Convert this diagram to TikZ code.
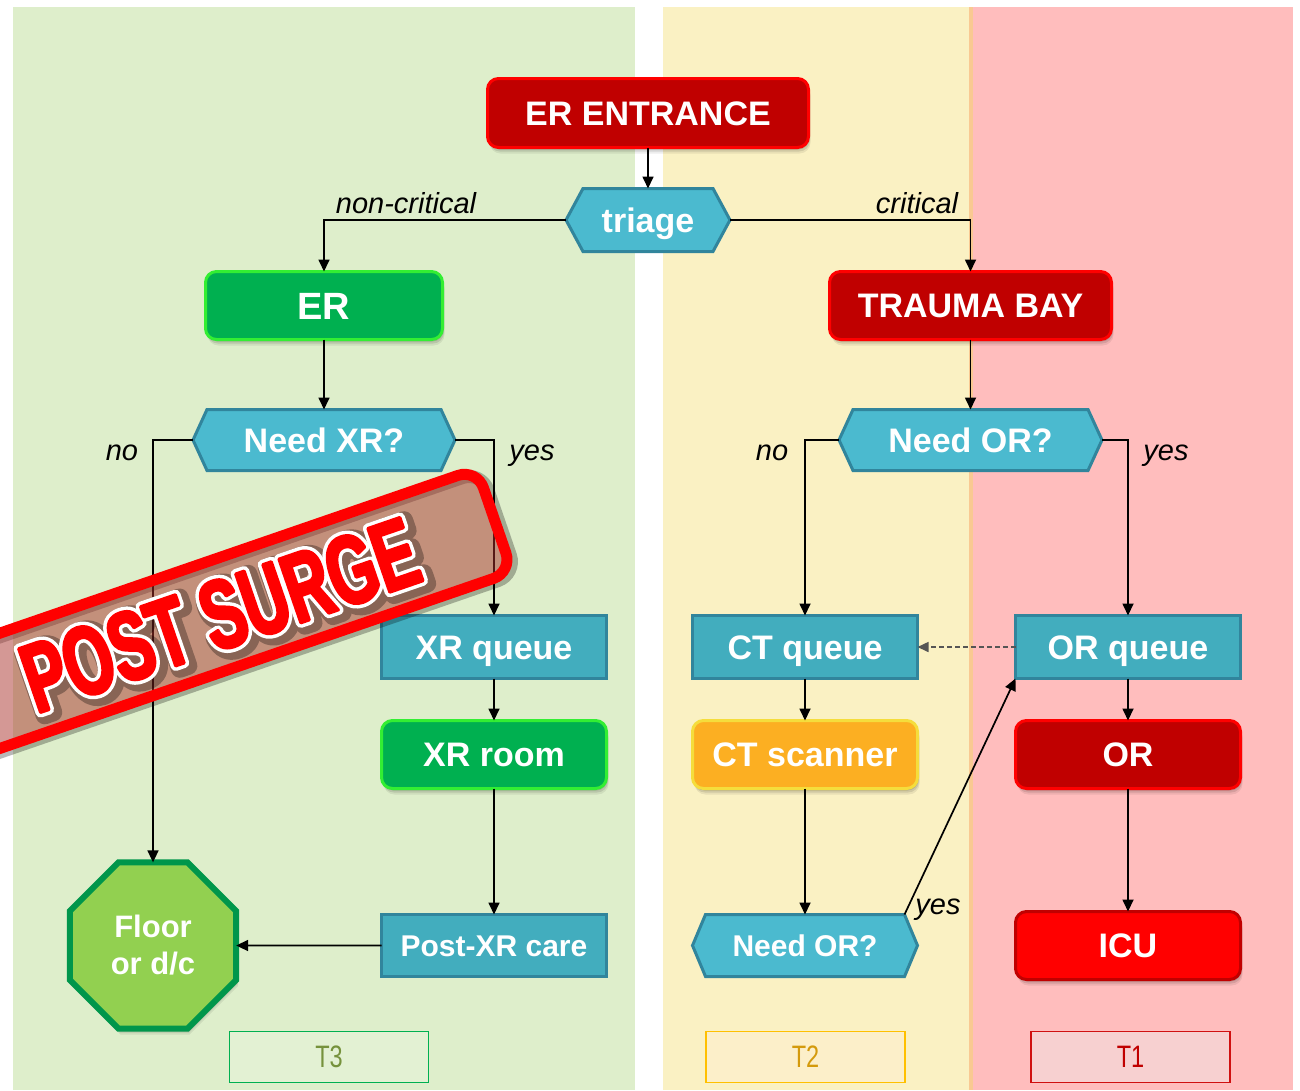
\documentclass[tikz,border=0pt]{standalone}
\usepackage{fontspec}
\setmainfont{Liberation Sans}
% condensed heavy face for the stamp lettering
\newfontfamily\stampplain{Liberation Sans}[UprightFont={* Bold}, UprightFeatures={FakeStretch=0.64}]
% glyphs filled and stroked with a given pen width and colour
\newcommand\strokedtext[3]{\special{pdf:literal direct #1 w 1 j #2 RG #2 rg 2 Tr}#3\special{pdf:literal direct 0 Tr}}
\usetikzlibrary{arrows.meta,shapes.geometric,shadows}

% panel and shape colours
\definecolor{pgreen}{HTML}{DEEECB}
\definecolor{pyellow}{HTML}{FAF1C3}
\definecolor{pred}{HTML}{FFBDBD}
\definecolor{pseam}{HTML}{F9C992}
\definecolor{dred}{HTML}{C00000}
\definecolor{bred}{HTML}{FF0000}
\definecolor{bgreen}{HTML}{00B050}
\definecolor{lgreen}{HTML}{33EE33}
\definecolor{hexfill}{HTML}{4BBACF}
\definecolor{hexline}{HTML}{31859C}
\definecolor{qfill}{HTML}{42ADBE}
\definecolor{ctfill}{HTML}{FCAF22}
\definecolor{ctline}{HTML}{F5DD3C}
\definecolor{octfill}{HTML}{92D050}
\definecolor{octline}{HTML}{00964B}
\definecolor{tthreetext}{HTML}{76923C}
\definecolor{tthreefill}{HTML}{E3F1D3}
\definecolor{ttwotext}{HTML}{D49A0C}
\definecolor{ttwofill}{HTML}{FCEFC9}
\definecolor{ttwoline}{HTML}{FFC000}
\definecolor{tonefill}{HTML}{F7D0D0}
\definecolor{toneline}{HTML}{D01010}
\definecolor{stampfill}{RGB}{170,51,45}
\definecolor{dashgray}{HTML}{555555}

\pgfdeclarelayer{panels}
\pgfdeclarelayer{hexes}
\pgfsetlayers{panels,hexes,main}

% hexagon decision shape drawn behind a named text node
\newcommand\hexback[2]{%
  \begin{pgfonlayer}{hexes}
    \filldraw[draw=hexline, fill=hexfill, line width=3pt, line join=miter]
      (#1.west) -- ([xshift=#2]#1.north west) -- ([xshift=-#2]#1.north east)
      -- (#1.east) -- ([xshift=-#2]#1.south east) -- ([xshift=#2]#1.south west) -- cycle;
  \end{pgfonlayer}}

\tikzset{
  softshadow/.style={
    drop shadow={shadow xshift=1pt, shadow yshift=-2pt, opacity=.12, fill=black},
    drop shadow={shadow xshift=1.5pt, shadow yshift=-4pt, opacity=.10, fill=black},
    drop shadow={shadow xshift=2pt, shadow yshift=-6pt, opacity=.07, fill=black}},
  box/.style={inner sep=0pt, outer sep=0pt, text=white, align=center,
    font=\bfseries\fontsize{34}{40}\selectfont, line width=3pt,
    text height=24.5pt, text depth=0pt},
  rbox/.style={box, rounded corners=11pt, softshadow},
  redbox/.style={rbox, fill=dred, draw=bred},
  greenbox/.style={rbox, fill=bgreen, draw=lgreen},
  ctbox/.style={rbox, fill=ctfill, draw=ctline},
  icubox/.style={rbox, fill=bred, draw=dred},
  qbox/.style={box, fill=qfill, draw=hexline},
  hexnode/.style={box},
  octo/.style={regular polygon, regular polygon sides=8, minimum size=180,
    inner sep=0pt, outer sep=0pt, fill=octfill, draw=octline, line width=6pt,
    text=white, align=center, font=\bfseries\fontsize{31}{37}\selectfont, softshadow},
  arr/.style={line width=1.7pt, -{Triangle[length=12pt,width=11pt]}},
  dasharr/.style={line width=1.6pt, draw=dashgray, dash pattern=on 5pt off 3pt,
    -{Triangle[length=11pt,width=10pt]}},
  lab/.style={font=\itshape\fontsize{29}{34}\selectfont, inner sep=0pt, anchor=base},
  tag/.style={line width=1.5pt, minimum width=199, minimum height=51,
    inner sep=0pt, font=\fontsize{31}{36}\selectfont},
  stamptxt/.style={transform shape, inner sep=0pt, font=\stampplain\fontsize{98}{98}\selectfont},
}

\begin{document}
\begin{tikzpicture}[x=1pt, y=-1pt]
\useasboundingbox (0,0) rectangle (1300,1090);

% coloured lanes
\begin{pgfonlayer}{panels}
  \fill[white] (0,0) rectangle (1300,1090);
  \fill[pgreen] (13,7) rectangle (635,1090);
  \fill[pyellow] (663,7) rectangle (969,1090);
  \fill[pred] (973,7) rectangle (1293,1090);
  \fill[pseam] (969,7) rectangle (973,1090);
\end{pgfonlayer}

% entrance and triage
\node[redbox, minimum width=321, minimum height=69] (ent) at (648,113) {ER ENTRANCE};
\node[hexnode, minimum width=164, minimum height=63] (tri) at (648,220) {triage};
\hexback{tri}{17pt}

% non-critical branch
\node[greenbox, minimum width=237, minimum height=68, font=\bfseries\fontsize{38}{44}\selectfont, text height=27pt] (er) at (324,305.5) {ER};
\node[hexnode, minimum width=262, minimum height=61] (nxr) at (324,440) {Need XR?};
\hexback{nxr}{14pt}
\node[qbox, minimum width=225, minimum height=63] (xrq) at (494,647) {XR queue};
\node[greenbox, minimum width=225, minimum height=68] (xrr) at (494,754.5) {XR room};
\node[qbox, minimum width=225, minimum height=62, font=\bfseries\fontsize{30}{36}\selectfont, text height=21.5pt] (post) at (494,945.5) {Post-XR care};
\node[octo] (floor) at (153,945.5) {Floor\\or d/c};

% critical branch
\node[redbox, minimum width=282, minimum height=68] (tb) at (970.5,305.5) {TRAUMA BAY};
\node[hexnode, minimum width=263, minimum height=61] (nor) at (970.5,440) {Need OR?};
\hexback{nor}{14pt}
\node[qbox, minimum width=225, minimum height=63] (ctq) at (805,647) {CT queue};
\node[ctbox, minimum width=225, minimum height=68] (cts) at (805,754.5) {CT scanner};
\node[hexnode, minimum width=225, minimum height=62, font=\bfseries\fontsize{30}{36}\selectfont, text height=21.5pt] (nor2) at (805,945.5) {Need OR?};
\hexback{nor2}{13pt}
\node[qbox, minimum width=225, minimum height=63] (orq) at (1128,647) {OR queue};
\node[redbox, minimum width=225, minimum height=68] (orr) at (1128,754.5) {OR};
\node[icubox, minimum width=225, minimum height=68] (icu) at (1128,945.5) {ICU};

% lane tags
\node[tag, fill=tthreefill, draw=bgreen, text=tthreetext] (t3) at (329,1057) {\scalebox{0.76}[1]{T3}};
\node[tag, fill=ttwofill, draw=ttwoline, text=ttwotext] (t2) at (805.5,1057) {\scalebox{0.76}[1]{T2}};
\node[tag, fill=tonefill, draw=toneline, text=dred] (t1) at (1130.5,1057) {\scalebox{0.76}[1]{T1}};

% connectors
\draw[arr] (ent.south) -- (tri.north);
\draw[arr] (tri.west) -| (er.north);
\draw[arr] (tri.east) -| (tb.north);
\draw[arr] (er.south) -- (nxr.north);
\draw[arr] (nxr.west) -| (floor.north);
\draw[arr] (nxr.east) -| (xrq.north);
\draw[arr] (xrq.south) -- (xrr.north);
\draw[arr] (xrr.south) -- (post.north);
\draw[arr] (post.west) -- (floor.east);
\draw[arr] (tb.south) -- (nor.north);
\draw[arr] (nor.west) -| (ctq.north);
\draw[arr] (nor.east) -| (orq.north);
\draw[dasharr] (orq.west) -- (ctq.east);
\draw[arr] (ctq.south) -- (cts.north);
\draw[arr] (cts.south) -- (nor2.north);
\coordinate (nor2tip) at ([xshift=-13pt]nor2.north east);
\draw[arr] (nor2tip) -- (orq.south west);
\draw[arr] (orq.south) -- (orr.north);
\draw[arr] (orr.south) -- (icu.north);

% branch labels (placed by baseline)
\node[lab] (lnc) at (406,213) {non-critical};
\node[lab] (lcr) at (917,213) {critical};
\node[lab] (lno1) at (122,460) {no};
\node[lab] (lyes1) at (532,460) {yes};
\node[lab] (lno2) at (772,460) {no};
\node[lab] (lyes2) at (1166,460) {yes};
\node[lab] (lyes3) at (938,914) {yes};

% status stamp
\begin{scope}
  \clip (0,0) rectangle (1300,1090);
  \begin{scope}[shift={(220,615)}, rotate=19]
    \draw[black, opacity=.28, line width=13pt, rounded corners=20pt]
      (-288,-51) rectangle (294,58);
    \fill[stampfill, fill opacity=.5, rounded corners=20pt]
      (-290.5,-54.5) rectangle (290.5,54.5);
    \draw[bred, line width=11pt, rounded corners=20pt]
      (-290.5,-54.5) rectangle (290.5,54.5);
    \begin{scope}[transparency group, opacity=.3]
      \node[stamptxt] (stampglow) at (3,4) {\strokedtext{18}{0 0 0}{POST SURGE}};
    \end{scope}
    \node[stamptxt] (stampedge) at (0,0) {\strokedtext{10}{1 1 1}{POST SURGE}};
    \node[stamptxt] (stamptext) at (0,0) {\strokedtext{3}{1 0 0}{POST SURGE}};
  \end{scope}
\end{scope}
\end{tikzpicture}
\end{document}
